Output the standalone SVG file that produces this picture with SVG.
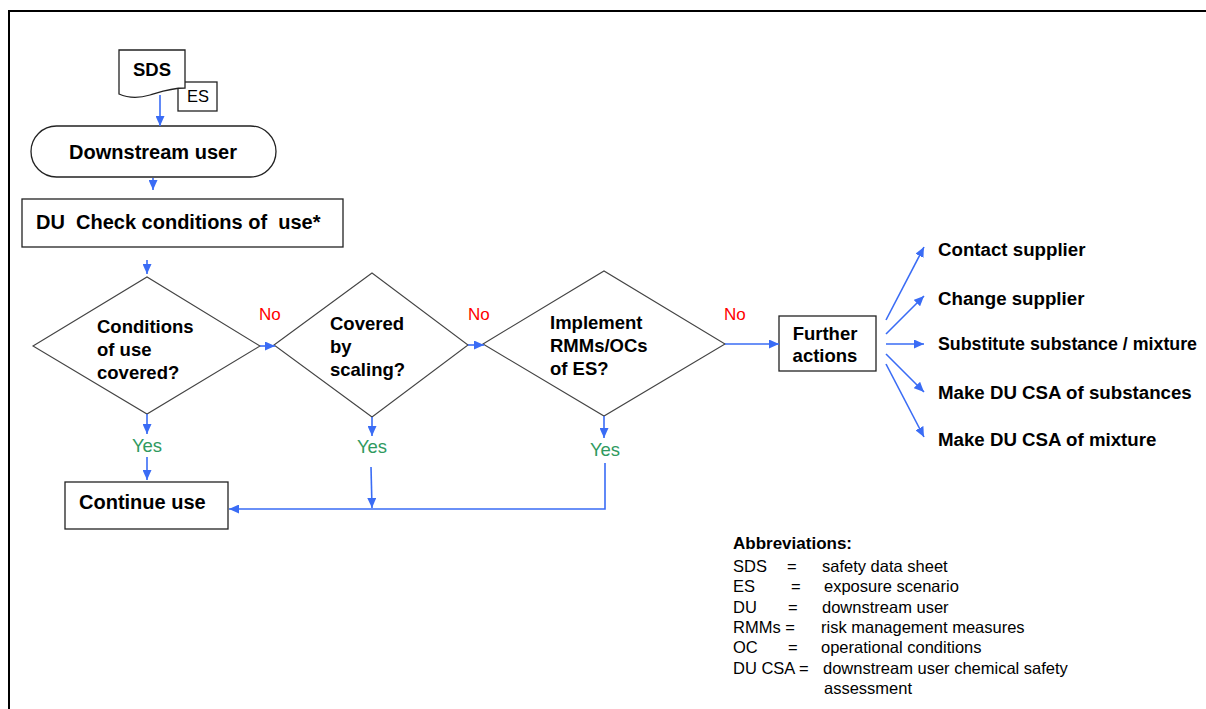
<svg xmlns="http://www.w3.org/2000/svg" width="1206" height="709" viewBox="0 0 1206 709">
<defs>
<marker id="ah" markerUnits="userSpaceOnUse" markerWidth="10" markerHeight="9" refX="10" refY="4.5" orient="auto" viewBox="0 0 10 9">
<path d="M0,0 L10,4.5 L0,9 z" fill="#3a6cf5"/>
</marker>
<style>
.t{font-family:"Liberation Sans",Arial,sans-serif;fill:#000}
.b{font-weight:bold}
.box{fill:#fff;stroke:#222;stroke-width:1.3}
.dia{fill:#fff;stroke:#444;stroke-width:1.1}
.c{fill:none;stroke:#3a6cf5;stroke-width:1.6}
.ca{fill:none;stroke:#3a6cf5;stroke-width:1.6;marker-end:url(#ah)}
.no{font-family:"Liberation Sans",Arial,sans-serif;fill:#ff0000;font-size:17px}
.yes{font-family:"Liberation Sans",Arial,sans-serif;fill:#2f9a60;font-size:18.5px}
</style>
</defs>
<rect x="0" y="0" width="1206" height="709" fill="#fff"/>
<path d="M9,709 V11 H1206" fill="none" stroke="#000" stroke-width="2"/>

<g id="es">
<rect class="box" x="178" y="82" width="39" height="29"/>
<text class="t" x="198" y="102" font-size="16.5" text-anchor="middle">ES</text>
</g>
<g id="sds">
<path class="box" d="M119,50 H185 V88 C170,88 160,92 150,95 C140,98 128,98 119,94 Z"/>
<text class="t b" x="152" y="76" font-size="18.5" text-anchor="middle">SDS</text>
</g>
<g id="downstream-user">
<rect class="box" x="31" y="126" width="245" height="51" rx="25.5" ry="25.5"/>
<text class="t b" x="153" y="159" font-size="20" text-anchor="middle">Downstream user</text>
</g>
<g id="du-check">
<rect class="box" x="22" y="199" width="321" height="48"/>
<text class="t b" x="36" y="229" font-size="20" xml:space="preserve">DU  Check conditions of  use*</text>
</g>
<g id="d1">
<polygon class="dia" points="33,346 147,277 260,346 147,414"/>
<text class="t b" font-size="18.5"><tspan x="97" y="333">Conditions</tspan><tspan x="97" y="356">of use</tspan><tspan x="97" y="379">covered?</tspan></text>
</g>
<g id="d2">
<polygon class="dia" points="274,345 372,273 468,345 372,417"/>
<text class="t b" font-size="18.5"><tspan x="330" y="330">Covered</tspan><tspan x="330" y="353">by</tspan><tspan x="330" y="376">scaling?</tspan></text>
</g>
<g id="d3">
<polygon class="dia" points="483,344 604,271 725,344 604,416"/>
<text class="t b" font-size="18.5"><tspan x="550" y="329">Implement</tspan><tspan x="550" y="352">RMMs/OCs</tspan><tspan x="550" y="375">of ES?</tspan></text>
</g>
<g id="further-actions">
<rect class="box" x="779" y="316" width="97" height="55"/>
<text class="t b" font-size="18.5" text-anchor="middle"><tspan x="825" y="340">Further</tspan><tspan x="825" y="362">actions</tspan></text>
</g>
<g id="continue-use">
<rect class="box" x="65" y="482" width="163" height="47"/>
<text class="t b" x="79" y="509" font-size="20">Continue use</text>
</g>
<g id="actions">
<text class="t b" x="938" y="256" font-size="18.7">Contact supplier</text>
<text class="t b" x="938" y="305" font-size="18.7">Change supplier</text>
<text class="t b" x="938" y="350" font-size="18.2" textLength="259" lengthAdjust="spacingAndGlyphs">Substitute substance / mixture</text>
<text class="t b" x="938" y="399" font-size="18.7">Make DU CSA of substances</text>
<text class="t b" x="938" y="446" font-size="18.7">Make DU CSA of mixture</text>
</g>
<g id="labels">
<text class="no" x="259" y="320">No</text>
<text class="no" x="468" y="320">No</text>
<text class="no" x="724" y="320">No</text>
<text class="yes" x="147" y="452" text-anchor="middle">Yes</text>
<text class="yes" x="372" y="453" text-anchor="middle">Yes</text>
<text class="yes" x="605" y="456" text-anchor="middle">Yes</text>
</g>
<g id="connectors">
<line class="ca" x1="160" y1="95" x2="160" y2="126"/>
<line class="ca" x1="153" y1="178" x2="153" y2="190"/>
<line class="ca" x1="147" y1="260" x2="147" y2="274"/>
<line class="ca" x1="260" y1="346" x2="275" y2="346"/>
<line class="ca" x1="468" y1="345" x2="484" y2="345"/>
<line class="ca" x1="725" y1="344" x2="779" y2="344"/>
<line class="ca" x1="147" y1="414" x2="147" y2="434"/>
<line class="ca" x1="147" y1="457" x2="147" y2="480"/>
<line class="ca" x1="372" y1="417" x2="372" y2="436"/>
<line class="ca" x1="371" y1="467" x2="372" y2="508"/>
<line class="ca" x1="604" y1="416" x2="604" y2="438"/>
<polyline class="ca" points="605,463 605,509 229,509"/>
<line class="ca" x1="886" y1="320" x2="924" y2="247"/>
<line class="ca" x1="886" y1="334" x2="924" y2="296"/>
<line class="ca" x1="886" y1="344" x2="924" y2="344"/>
<line class="ca" x1="886" y1="354" x2="924" y2="392"/>
<line class="ca" x1="886" y1="364" x2="924" y2="437"/>
</g>
<g id="abbreviations" class="t" font-size="16.5">
<text class="b" x="733" y="549" font-size="17">Abbreviations:</text>
<text x="733" y="572">SDS</text><text x="787" y="572">=</text><text x="822" y="572">safety data sheet</text>
<text x="733" y="592">ES</text><text x="791" y="592">=</text><text x="824" y="592">exposure scenario</text>
<text x="733" y="613">DU</text><text x="788" y="613">=</text><text x="822" y="613">downstream user</text>
<text x="733" y="633">RMMs =</text><text x="821" y="633">risk management measures</text>
<text x="733" y="653">OC</text><text x="788" y="653">=</text><text x="821" y="653">operational conditions</text>
<text x="733" y="674">DU CSA =</text><text x="823" y="674">downstream user chemical safety</text>
<text x="824" y="694">assessment</text>
</g>
</svg>
